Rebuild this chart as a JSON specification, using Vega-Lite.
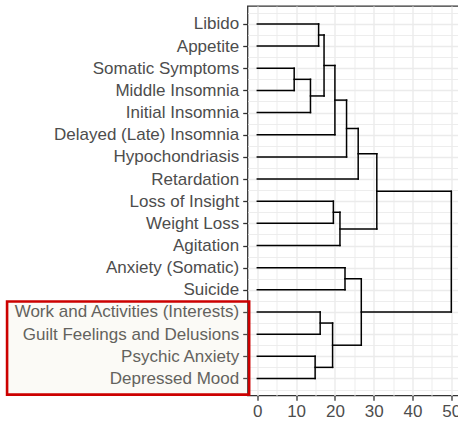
{
  "$schema": "https://vega.github.io/schema/vega-lite/v6.json",
  "width": 213.5,
  "height": 389.5,
  "autosize": {"type": "none"},
  "padding": {"left": 247.5, "top": 6, "right": 0, "bottom": 25.5},
  "background": "white",
  "config": {
    "view": {"stroke": "#333333", "strokeWidth": 1.3},
    "axis": {
      "domain": false,
      "labelFont": "Liberation Sans",
      "labelFontSize": 17,
      "labelColor": "#4D4D4D",
      "labelLimit": 0,
      "tickColor": "#333333",
      "tickWidth": 1.3,
      "tickSize": 4.8,
      "gridColor": "#EBEBEB",
      "title": null,
      "labelOverlap": false,
      "labelBound": false,
      "zindex": 1
    }
  },
  "encoding": {
    "x": {
      "field": "x", "type": "quantitative",
      "scale": {"domain": [-2.53, 52.5], "nice": false, "zero": false},
      "axis": {
        "values": [0, 5, 10, 15, 20, 25, 30, 35, 40, 45, 50],
        "labelExpr": "datum.value % 10 == 0 ? datum.label : ''",
        "labelPadding": 3.3,
        "gridWidth": {"condition": {"test": "datum.value % 10 != 0", "value": 0.9}, "value": 1.4},
        "tickOpacity": {"condition": {"test": "datum.value % 10 != 0", "value": 0}, "value": 1}
      }
    },
    "x2": {"field": "xend"},
    "y": {
      "field": "y", "type": "quantitative",
      "scale": {"domain": [0.19, 17.77], "nice": false, "zero": false, "reverse": true},
      "axis": {
        "values": [0.5, 1, 1.5, 2, 2.5, 3, 3.5, 4, 4.5, 5, 5.5, 6, 6.5, 7, 7.5, 8, 8.5, 9, 9.5, 10, 10.5, 11, 11.5, 12, 12.5, 13, 13.5, 14, 14.5, 15, 15.5, 16, 16.5, 17, 17.5],
        "labelExpr": "datum.value % 1 == 0 ? ['Libido','Appetite','Somatic Symptoms','Middle Insomnia','Initial Insomnia','Delayed (Late) Insomnia','Hypochondriasis','Retardation','Loss of Insight','Weight Loss','Agitation','Anxiety (Somatic)','Suicide','Work and Activities (Interests)','Guilt Feelings and Delusions','Psychic Anxiety','Depressed Mood'][datum.value - 1] : ''",
        "labelPadding": 4,
        "gridWidth": {"condition": {"test": "datum.value % 1 != 0", "value": 0.9}, "value": 1.4},
        "tickOpacity": {"condition": {"test": "datum.value % 1 != 0", "value": 0}, "value": 1}
      }
    },
    "y2": {"field": "yend"}
  },
  "layer": [
    {
      "data": {
        "values": [
          {"x": 0, "xend": 15.8, "y": 1, "yend": 1},
          {"x": 0, "xend": 15.8, "y": 2, "yend": 2},
          {"x": 0, "xend": 9.5, "y": 3, "yend": 3},
          {"x": 0, "xend": 9.5, "y": 4, "yend": 4},
          {"x": 0, "xend": 13.7, "y": 5, "yend": 5},
          {"x": 0, "xend": 20.0, "y": 6, "yend": 6},
          {"x": 0, "xend": 23.0, "y": 7, "yend": 7},
          {"x": 0, "xend": 26.0, "y": 8, "yend": 8},
          {"x": 0, "xend": 19.6, "y": 9, "yend": 9},
          {"x": 0, "xend": 19.6, "y": 10, "yend": 10},
          {"x": 0, "xend": 21.3, "y": 11, "yend": 11},
          {"x": 0, "xend": 22.6, "y": 12, "yend": 12},
          {"x": 0, "xend": 22.6, "y": 13, "yend": 13},
          {"x": 0, "xend": 16.2, "y": 14, "yend": 14},
          {"x": 0, "xend": 16.2, "y": 15, "yend": 15},
          {"x": 0, "xend": 14.9, "y": 16, "yend": 16},
          {"x": 0, "xend": 14.9, "y": 17, "yend": 17},
          {"x": 15.8, "xend": 17.2, "y": 1.5, "yend": 1.5},
          {"x": 9.5, "xend": 13.7, "y": 3.5, "yend": 3.5},
          {"x": 13.7, "xend": 17.2, "y": 4.25, "yend": 4.25},
          {"x": 17.2, "xend": 20.0, "y": 2.875, "yend": 2.875},
          {"x": 20.0, "xend": 23.0, "y": 4.4375, "yend": 4.4375},
          {"x": 23.0, "xend": 26.0, "y": 5.71875, "yend": 5.71875},
          {"x": 26.0, "xend": 30.8, "y": 6.859375, "yend": 6.859375},
          {"x": 19.6, "xend": 21.3, "y": 9.5, "yend": 9.5},
          {"x": 21.3, "xend": 30.8, "y": 10.25, "yend": 10.25},
          {"x": 30.8, "xend": 50, "y": 8.5546875, "yend": 8.5546875},
          {"x": 22.6, "xend": 26.8, "y": 12.5, "yend": 12.5},
          {"x": 16.2, "xend": 19.4, "y": 14.5, "yend": 14.5},
          {"x": 14.9, "xend": 19.4, "y": 16.5, "yend": 16.5},
          {"x": 19.4, "xend": 26.8, "y": 15.5, "yend": 15.5},
          {"x": 26.8, "xend": 50, "y": 14, "yend": 14},
          {"x": 15.8, "xend": 15.8, "y": 1, "yend": 2},
          {"x": 9.5, "xend": 9.5, "y": 3, "yend": 4},
          {"x": 13.7, "xend": 13.7, "y": 3.5, "yend": 5},
          {"x": 17.2, "xend": 17.2, "y": 1.5, "yend": 4.25},
          {"x": 20.0, "xend": 20.0, "y": 2.875, "yend": 6},
          {"x": 23.0, "xend": 23.0, "y": 4.4375, "yend": 7},
          {"x": 26.0, "xend": 26.0, "y": 5.71875, "yend": 8},
          {"x": 19.6, "xend": 19.6, "y": 9, "yend": 10},
          {"x": 21.3, "xend": 21.3, "y": 9.5, "yend": 11},
          {"x": 30.8, "xend": 30.8, "y": 6.859375, "yend": 10.25},
          {"x": 22.6, "xend": 22.6, "y": 12, "yend": 13},
          {"x": 16.2, "xend": 16.2, "y": 14, "yend": 15},
          {"x": 14.9, "xend": 14.9, "y": 16, "yend": 17},
          {"x": 19.4, "xend": 19.4, "y": 14.5, "yend": 16.5},
          {"x": 26.8, "xend": 26.8, "y": 12.5, "yend": 15.5},
          {"x": 50, "xend": 50, "y": 8.5546875, "yend": 14}
        ]
      },
      "mark": {"type": "rule", "color": "black", "strokeWidth": 1.5, "strokeCap": "square"}
    },
    {
      "data": {"values": [{"x": -64.5, "xend": -2.1, "y": 13.53, "yend": 17.73}]},
      "mark": {"type": "rect", "fill": "#E6DCC0", "fillOpacity": 0.15, "stroke": "#CC0000", "strokeWidth": 2.6}
    }
  ]
}
